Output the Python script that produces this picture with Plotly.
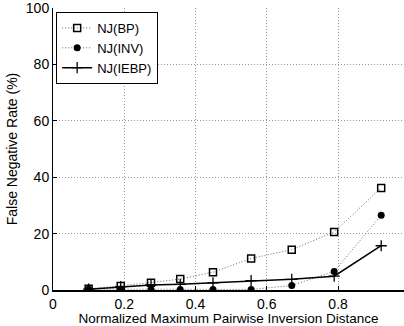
import plotly.graph_objects as go

x = [0.1, 0.19, 0.275, 0.357, 0.449, 0.556, 0.67, 0.789, 0.921]
bp = [0.4, 1.4, 2.6, 3.9, 6.3, 11.2, 14.3, 20.6, 36.2]
inv = [0.3, 0.3, 0.2, 0.2, 0.2, 0.2, 1.6, 6.6, 26.5]
iebp = [0.3, 1.2, 1.8, 2.0, 2.5, 3.3, 3.8, 4.9, 15.7]

fig = go.Figure()
fig.add_trace(go.Scatter(x=x, y=bp, name="NJ(BP)", mode="lines+markers",
                         line=dict(color="#666", width=1, dash="1px,2px"),
                         marker=dict(symbol="square-open", size=7, color="black", line=dict(width=1.5))))
fig.add_trace(go.Scatter(x=x, y=inv, name="NJ(INV)", mode="lines+markers",
                         line=dict(color="#666", width=1, dash="1px,2px"),
                         marker=dict(symbol="circle", size=7, color="black")))
fig.add_trace(go.Scatter(x=x, y=iebp, name="NJ(IEBP)", mode="lines+markers",
                         line=dict(color="black", width=1.5),
                         marker=dict(symbol="cross-thin", size=8, color="black", line=dict(width=1.3, color="black"))))

font = "Liberation Sans, Arial, sans-serif"
fig.update_layout(
    width=404, height=326,
    margin=dict(l=53, r=0, t=8, b=36),
    plot_bgcolor="white", paper_bgcolor="white",
    font=dict(family=font, size=14, color="black"),
    legend=dict(x=0.009, y=0.986, xanchor="left", yanchor="top",
                bordercolor="black", borderwidth=1, bgcolor="white",
                font=dict(size=13), tracegroupgap=0, itemwidth=30),
    showlegend=True,
)
fig.update_xaxes(range=[0, 0.985], tickvals=[0, 0.2, 0.4, 0.6, 0.8],
                 ticktext=["0", "0.2", "0.4", "0.6", "0.8"],
                 showgrid=True, gridcolor="#999", griddash="1px,2px", gridwidth=1,
                 showline=True, linecolor="black", linewidth=2, mirror=False,
                 ticks="inside", ticklen=4, tickcolor="black", zeroline=False,
                 ticklabeloverflow="allow",
                 title=dict(text="Normalized Maximum Pairwise Inversion Distance", font=dict(size=13.5), standoff=2),
                 tickfont=dict(size=14))
fig.update_yaxes(range=[0, 100], tickvals=[0, 20, 40, 60, 80, 100],
                 showgrid=True, gridcolor="#999", griddash="1px,2px", gridwidth=1,
                 showline=True, linecolor="black", linewidth=1, mirror=True,
                 ticks="inside", ticklen=4, tickcolor="black", zeroline=False,
                 ticklabeloverflow="allow",
                 title=dict(text="False Negative Rate (%)", font=dict(size=14), standoff=4),
                 tickfont=dict(size=14))
fig.write_html("out.html")
